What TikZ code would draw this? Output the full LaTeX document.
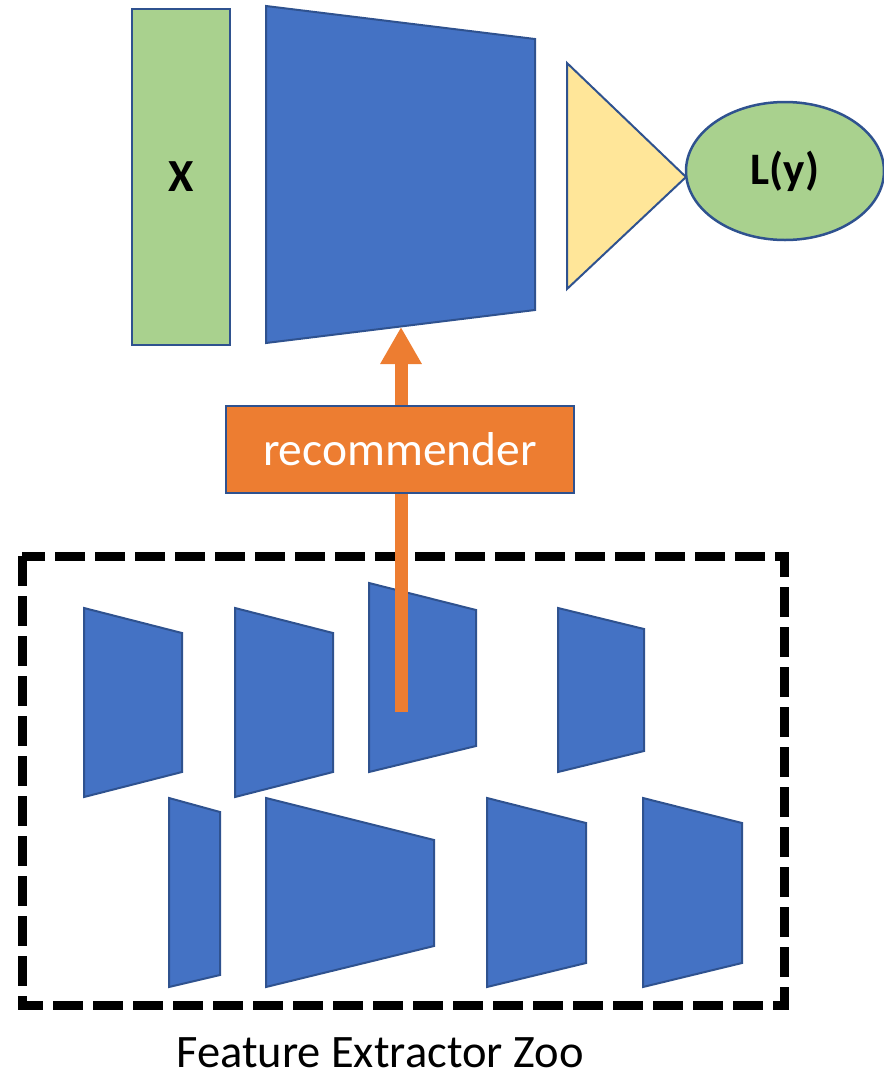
\documentclass[tikz,border=0pt]{standalone}
\usepackage{fontspec}
\setmainfont{Carlito}
\usetikzlibrary{arrows.meta,shapes.geometric}

\definecolor{boxgreen}{HTML}{A9D18E}
\definecolor{netblue}{HTML}{4472C4}
\definecolor{edgeblue}{HTML}{2F528F}
\definecolor{headgold}{HTML}{FFE699}
\definecolor{recorange}{HTML}{ED7D31}

\tikzset{
  net/.style={fill=netblue, draw=edgeblue, line width=2pt, line join=miter},
  inputbox/.style={rectangle, fill=boxgreen, draw=edgeblue, line width=2pt,
    minimum width=98pt, minimum height=336pt, inner sep=0pt,
    font=\fontsize{46}{55}\selectfont\bfseries},
  lossnode/.style={ellipse, fill=boxgreen, draw=edgeblue, line width=2.5pt,
    minimum width=198pt, minimum height=138pt, inner sep=0pt,
    font=\fontsize{45}{54}\selectfont\bfseries},
  headshape/.style={fill=headgold, draw=edgeblue, line width=2pt, line join=miter},
  recbox/.style={rectangle, fill=recorange, draw=edgeblue, line width=2pt,
    minimum width=348pt, minimum height=87pt, inner sep=0pt,
    text=white, font=\fontsize{47.5}{57}\selectfont},
  flow/.style={draw=recorange, line width=13pt,
    -{Triangle[width=39pt,length=37pt]}},
  zoo/.style={draw=black, line width=9pt, dash pattern=on 30pt off 10pt},
  caption/.style={font=\fontsize{46.5}{56}\selectfont, inner sep=0pt, anchor=base}
}

\begin{document}
\begin{tikzpicture}[x=1pt, y=-1pt]
  \useasboundingbox (0,0) rectangle (884,1077);

  % feature extractor zoo: dashed frame
  \draw[zoo] (22,556) rectangle (784.5,1005);

  % pretrained extractors, first row
  \draw[net] (84,608) -- (182,633) -- (182,772) -- (84,797) -- cycle;
  \draw[net] (235,608) -- (333,633) -- (333,772) -- (235,797) -- cycle;
  \draw[net] (369,583) -- (476,610) -- (476,746) -- (369,772) -- cycle;
  \draw[net] (558,608) -- (644,629) -- (644,751) -- (558,772) -- cycle;
  % second row
  \draw[net] (169,798) -- (220,812) -- (220,975) -- (169,987) -- cycle;
  \draw[net] (266,798) -- (434,840) -- (434,946) -- (266,987) -- cycle;
  \draw[net] (487,798) -- (586,823) -- (586,963) -- (487,987) -- cycle;
  \draw[net] (643,798) -- (742,823) -- (742,963) -- (643,987) -- cycle;

  % selected extractor feeds the main network
  \coordinate (pick) at (401,712);
  \coordinate (target) at (401,327);
  \draw[flow] (pick) -- (target);

  \node[recbox] (rec) at (400,449.5) {recommender};

  % main pipeline
  \node[inputbox] (x) at (181,177) {X};
  \draw[net] (266,6) -- (535,39) -- (535,310) -- (266,343) -- cycle;
  \draw[headshape] (567,63) -- (686,177) -- (567,289) -- cycle;
  \node[lossnode] (loss) at (785,171) {L(y)};

  \node[caption] (cap) at (380,1067) {Feature Extractor Zoo};
\end{tikzpicture}
\end{document}
